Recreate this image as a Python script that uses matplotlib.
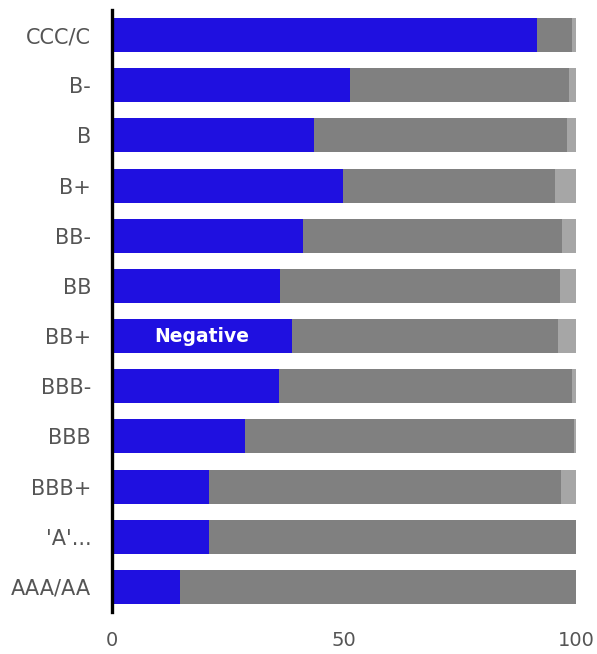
import numpy as np
import matplotlib.pyplot as plt

ratings = ["CCC/C", "B-", "B", "B+", "BB-", "BB", "BB+", "BBB-", "BBB", "BBB+", "'A'...", "AAA/AA"]
negative = [91.6, 51.4, 43.6, 49.7, 41.1, 36.2, 38.9, 36.0, 28.6, 21.0, 21.0, 14.7]
stable = [7.6, 47.1, 54.4, 45.8, 55.9, 60.4, 57.2, 63.2, 70.9, 75.8, 79.0, 85.3]
positive = [100 - n - s for n, s in zip(negative, stable)]

fig = plt.figure(figsize=(5.97, 6.54), dpi=100)
ax = fig.add_axes([0.1876, 0.0642, 0.7772, 0.9205])

y = np.arange(len(ratings))
h = 0.68
ax.barh(y, negative, height=h, color="#1f10e0")
ax.barh(y, stable, left=negative, height=h, color="#808080")
left2 = [n + s for n, s in zip(negative, stable)]
ax.barh(y, positive, left=left2, height=h, color="#a6a6a6")

# label inside the BB+ bar
i = ratings.index("BB+")
ax.text(negative[i] / 2, i, "Negative", color="white", fontweight="bold",
        fontsize=13.5, ha="center", va="center")

ax.set_xlim(0, 100)
ax.set_ylim(len(ratings) - 0.5, -0.5)
ax.set_yticks(y)
ax.set_yticklabels(ratings)
ax.set_xticks([0, 50, 100])

for side in ["top", "right", "bottom"]:
    ax.spines[side].set_visible(False)
ax.spines["left"].set_linewidth(2.4)
ax.spines["left"].set_color("black")
ax.tick_params(axis="y", length=0, pad=15, labelsize=15, labelcolor="#555555")
ax.tick_params(axis="x", length=0, pad=14, labelsize=14, labelcolor="#555555")

fig.savefig("out.png", dpi=100)
